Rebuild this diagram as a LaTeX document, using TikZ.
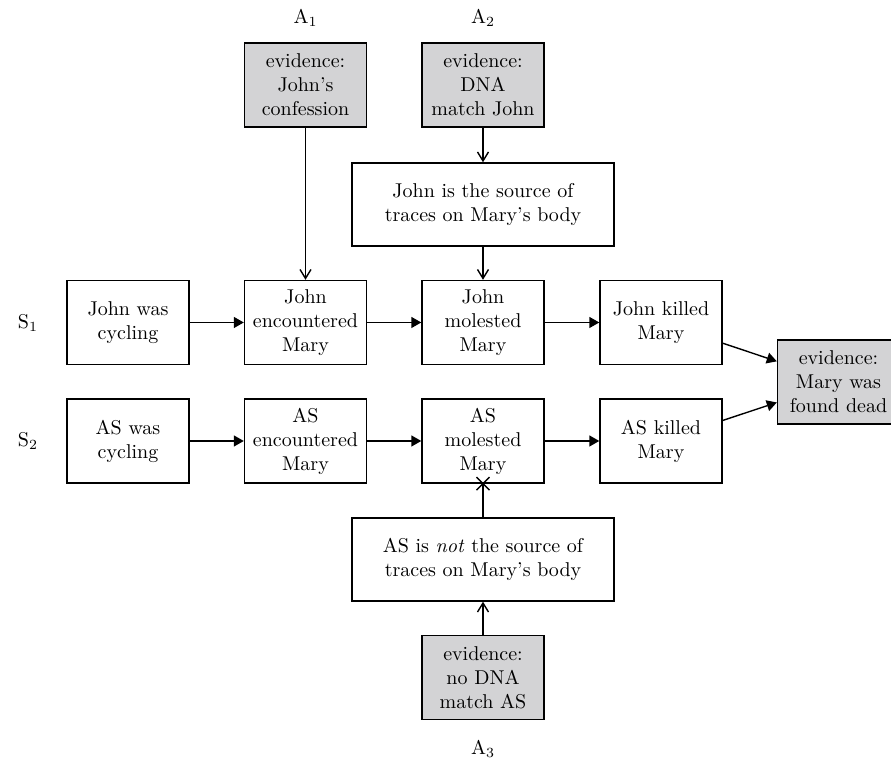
\documentclass[tikz,border=0pt]{standalone}
\usetikzlibrary{arrows.meta}
\definecolor{evgray}{RGB}{211,211,213}
\tikzset{
  box/.style={draw, line width=0.7pt, minimum width=61pt, minimum height=42pt, inner sep=0pt, align=center},
  evbox/.style={box, fill=evgray},
  widebox/.style={box, minimum width=131pt, minimum height=41.5pt},
  lbl/.style={inner sep=0pt},
  openarr/.style={line width=0.7pt, -{Straight Barb[length=4.5pt,width=5.5pt,line width=0.7pt]}},
  fillarr/.style={line width=0.7pt, -{Triangle[length=5pt,width=5.5pt]}},
  crossline/.style={line width=0.7pt}
}
\begin{document}
\begin{tikzpicture}[x=0.5pt,y=-0.5pt]
\useasboundingbox (0,0) rectangle (891,763);
% labels
\node[lbl] (la1) at (305.5,18) {A$_1$};
\node[lbl] (la2) at (483,18) {A$_2$};
\node[lbl] (la3) at (483,749) {A$_3$};
\node[lbl] (ls1) at (28,322.5) {S$_1$};
\node[lbl] (ls2) at (28,441) {S$_2$};
% top evidence
\node[evbox] (e1) at (305.5,85) {evidence:\\John's\\confession};
\node[evbox] (e2) at (483,85) {evidence:\\DNA\\match John};
\node[widebox] (src) at (483,204.5) {John is the source of\\traces on Mary's body};
% row 1
\node[box] (jc) at (128,322.5) {John was\\cycling};
\node[box] (je) at (305.5,322.5) {John\\encountered\\Mary};
\node[box] (jm) at (483,322.5) {John\\molested\\Mary};
\node[box] (jk) at (661,322.5) {John killed\\Mary};
% row 2
\node[box] (ac) at (128,441) {AS was\\cycling};
\node[box] (ae) at (305.5,441) {AS\\encountered\\Mary};
\node[box] (am) at (483,441) {AS\\molested\\Mary};
\node[box] (ak) at (661,441) {AS killed\\Mary};
% found dead
\node[evbox] (fd) at (838.5,382) {evidence:\\Mary was\\found dead};
% bottom
\node[widebox] (nsrc) at (483,559.5) {AS is \emph{not} the source of\\traces on Mary's body};
\node[evbox] (e3) at (483,677.5) {evidence:\\no DNA\\match AS};
% connectors
\draw[openarr] (e1) -- (je);
\draw[openarr] (e2) -- (src);
\draw[openarr] (src) -- (jm);
\draw[fillarr] (jc) -- (je);
\draw[fillarr] (je) -- (jm);
\draw[fillarr] (jm) -- (jk);
\draw[fillarr] (jk) -- (fd);
\draw[fillarr] (ac) -- (ae);
\draw[fillarr] (ae) -- (am);
\draw[fillarr] (am) -- (ak);
\draw[fillarr] (ak) -- (fd);
\draw[openarr] (e3) -- (nsrc);
\draw[crossline] (nsrc) -- (am);
\draw[crossline] ([shift={(-3.25pt,-3.25pt)}]am.south) -- ([shift={(3.25pt,3.25pt)}]am.south);
\draw[crossline] ([shift={(-3.25pt,3.25pt)}]am.south) -- ([shift={(3.25pt,-3.25pt)}]am.south);
\end{tikzpicture}
\end{document}
